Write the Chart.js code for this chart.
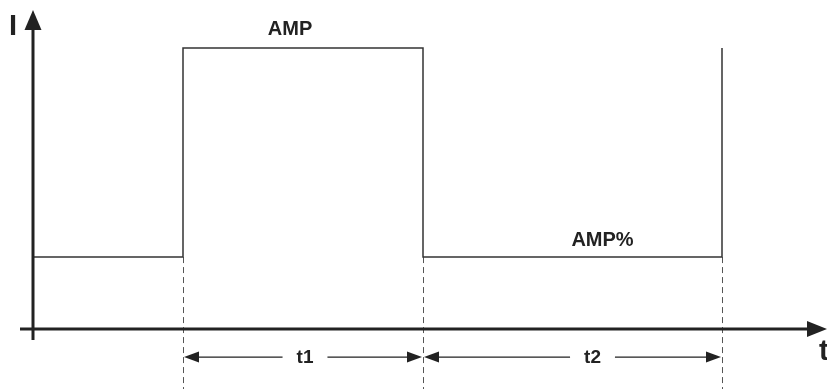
<!DOCTYPE html>
<html>
<head>
<meta charset="utf-8">
<script src="https://cdn.jsdelivr.net/npm/chart.js@4.4.0/dist/chart.umd.min.js"></script>
<style>
    html, body { margin: 0; padding: 0; background: #fff; }
    #wrap { width: 827px; height: 389px; }
</style>
</head>
<body>
<div id="wrap"><canvas id="pulseChart" width="827" height="389"></canvas></div>
<script>
// pulse edges (time units) and current levels
const edgeTimes = [1.5, 3.9, 6.89];
const levelNames = ['AMP', 'AMP%'];
const levelValues = [100, 25.6];
const spanLabels = ['t1', 't2'];
const axisLabels = ['I', 't'];

// waveform: low, up at edge 1, down at edge 2, up at edge 3
const high = levelValues[0];
const low = levelValues[1];
const wave = [
    { x: 0, y: low },
    { x: edgeTimes[0], y: low },
    { x: edgeTimes[0], y: high },
    { x: edgeTimes[1], y: high },
    { x: edgeTimes[1], y: low },
    { x: edgeTimes[2], y: low },
    { x: edgeTimes[2], y: high }
];

function arrowHead(ctx, x, y, dir, len, half) {
    // dir: 'up', 'right', 'left'
    ctx.beginPath();
    if (dir === 'up') {
        ctx.moveTo(x, y);
        ctx.lineTo(x - half, y + len);
        ctx.lineTo(x + half, y + len);
    } else if (dir === 'right') {
        ctx.moveTo(x, y);
        ctx.lineTo(x - len, y - half);
        ctx.lineTo(x - len, y + half);
    } else {
        ctx.moveTo(x, y);
        ctx.lineTo(x + len, y - half);
        ctx.lineTo(x + len, y + half);
    }
    ctx.closePath();
    ctx.fill();
}

const diagramPlugin = {
    id: 'diagram',
    beforeDatasetsDraw(chart) {
        const ctx = chart.ctx;
        const xs = chart.scales.x;
        const ys = chart.scales.y;
        ctx.save();
        // dashed guides at each edge
        ctx.strokeStyle = '#555';
        ctx.lineWidth = 1;
        ctx.setLineDash([6, 4]);
        edgeTimes.forEach(t => {
            const px = Math.round(xs.getPixelForValue(t)) + 0.5;
            ctx.beginPath();
            ctx.moveTo(px, ys.getPixelForValue(low));
            ctx.lineTo(px, chart.height);
            ctx.stroke();
        });
        ctx.restore();
    },
    afterDatasetsDraw(chart) {
        const ctx = chart.ctx;
        const xs = chart.scales.x;
        const ys = chart.scales.y;
        const x0 = xs.getPixelForValue(0);
        const y0 = ys.getPixelForValue(0);
        ctx.save();
        ctx.strokeStyle = '#222';
        ctx.fillStyle = '#222';
        ctx.lineWidth = 3;

        // vertical axis
        ctx.beginPath();
        ctx.moveTo(x0, y0 + 11);
        ctx.lineTo(x0, 28);
        ctx.stroke();
        arrowHead(ctx, x0, 10, 'up', 20, 8.5);

        // horizontal axis
        ctx.beginPath();
        ctx.moveTo(x0 - 13, y0);
        ctx.lineTo(chart.width - 18, y0);
        ctx.stroke();
        arrowHead(ctx, chart.width, y0, 'right', 20, 8);

        // span arrows
        const yArrow = ys.getPixelForValue(-10);
        ctx.lineWidth = 1.3;
        ctx.font = 'bold 19px "Liberation Sans", Arial, sans-serif';
        ctx.textAlign = 'center';
        ctx.textBaseline = 'middle';
        for (let i = 0; i < spanLabels.length; i++) {
            const a = xs.getPixelForValue(edgeTimes[i]);
            const b = xs.getPixelForValue(edgeTimes[i + 1]);
            const mid = (a + b) / 2 + (i === 0 ? 2 : 20);
            const w = ctx.measureText(spanLabels[i]).width / 2 + 14;
            ctx.beginPath();
            ctx.moveTo(a + 12, yArrow);
            ctx.lineTo(mid - w, yArrow);
            ctx.moveTo(mid + w, yArrow);
            ctx.lineTo(b - 12, yArrow);
            ctx.stroke();
            arrowHead(ctx, a + 1, yArrow, 'left', 15, 5.5);
            arrowHead(ctx, b - 1, yArrow, 'right', 15, 5.5);
            ctx.fillText(spanLabels[i], mid, yArrow + 1);
        }

        // level labels
        ctx.font = 'bold 20px "Liberation Sans", Arial, sans-serif';
        ctx.fillText(levelNames[0], (xs.getPixelForValue(edgeTimes[0]) + xs.getPixelForValue(edgeTimes[1])) / 2 - 13, ys.getPixelForValue(high) - 19);
        ctx.fillText(levelNames[1], (xs.getPixelForValue(edgeTimes[1]) + xs.getPixelForValue(edgeTimes[2])) / 2 + 30, ys.getPixelForValue(low) - 17);

        // axis labels
        ctx.font = 'bold 29px "Liberation Sans", Arial, sans-serif';
        ctx.textAlign = 'left';
        ctx.textBaseline = 'alphabetic';
        ctx.fillText(axisLabels[0], 9, 35);
        ctx.fillText(axisLabels[1], 819, 360);
        ctx.restore();
    }
};

const pulseCtx = document.getElementById('pulseChart').getContext('2d');
new Chart(pulseCtx, {
    type: 'scatter',
    data: {
        datasets: [{
            label: 'I',
            data: wave,
            showLine: true,
            borderColor: '#333',
            borderWidth: 1.5,
            pointRadius: 0,
            tension: 0,
            fill: false
        }]
    },
    options: {
        responsive: false,
        animation: false,
        layout: { padding: 0 },
        plugins: {
            legend: { display: false },
            tooltip: { enabled: false }
        },
        scales: {
            x: { type: 'linear', display: false, min: -0.33, max: 7.94 },
            y: { type: 'linear', display: false, min: -21.35, max: 117.08 }
        }
    },
    plugins: [diagramPlugin]
});
</script>
</body>
</html>
